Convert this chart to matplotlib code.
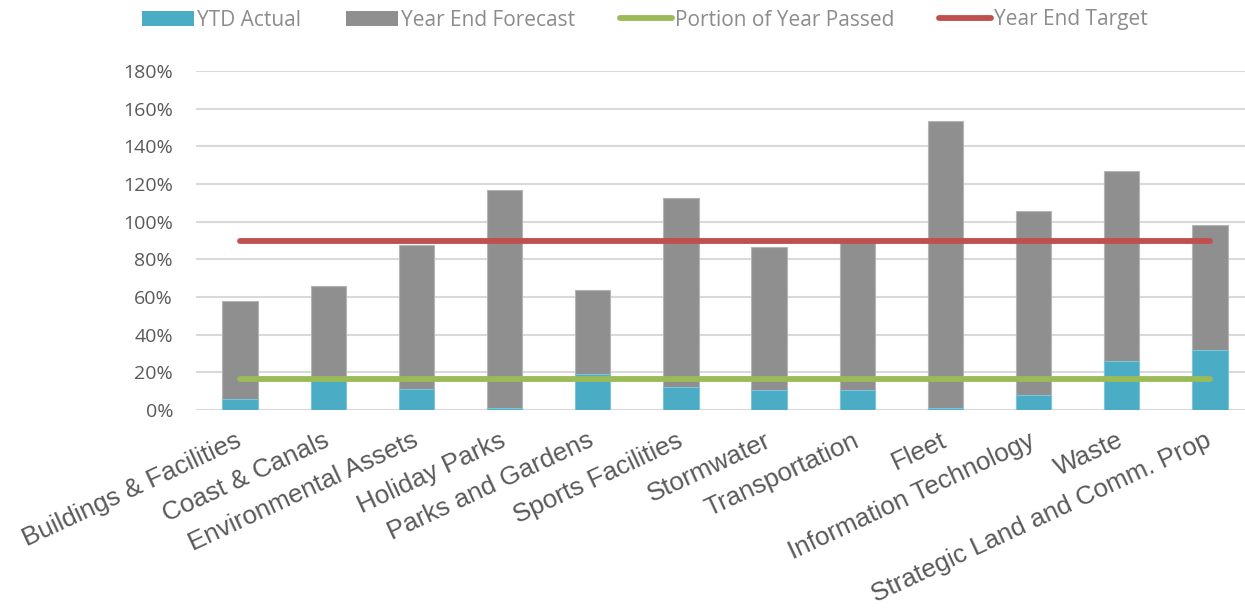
import matplotlib
matplotlib.use("Agg")
import matplotlib.pyplot as plt
from matplotlib.patches import Patch
from matplotlib.lines import Line2D
from matplotlib.ticker import FuncFormatter

categories = [
    "Buildings & Facilities", "Coast & Canals", "Environmental Assets",
    "Holiday Parks", "Parks and Gardens", "Sports Facilities", "Stormwater",
    "Transportation", "Fleet", "Information Technology", "Waste",
    "Strategic Land and Comm. Prop",
]
ytd_actual = [0.058, 0.16, 0.111, 0.009, 0.189, 0.12, 0.108, 0.104, 0.013, 0.078, 0.26, 0.317]
year_end_forecast = [0.579, 0.656, 0.874, 1.166, 0.635, 1.125, 0.863, 0.89, 1.537, 1.055, 1.267, 0.982]
portion_of_year = [0.165, 0.165, 0.165, 0.165, 0.165, 0.165, 0.165, 0.165, 0.165, 0.165, 0.165, 0.165]
year_end_target = [0.90, 0.90, 0.90, 0.90, 0.90, 0.90, 0.90, 0.90, 0.90, 0.90, 0.90, 0.90]
y_ticks = [0, 0.2, 0.4, 0.6, 0.8, 1.0, 1.2, 1.4, 1.6, 1.8]

BLUE = "#4BACC6"
GRAY = "#8F8F8F"
GREEN = "#9BBB59"
RED = "#C0504D"
TEXT = "#595959"
LEGEND_TEXT = "#8C8C8C"
GRID = "#D9D9D9"

W, H = 1245, 609
fig = plt.figure(figsize=(W / 100, H / 100), dpi=100)
ax = fig.add_axes([196 / W, (H - 410) / H, (1254 - 196) / W, (410 - 71) / H])

x = list(range(len(categories)))
ax.bar(x, year_end_forecast, width=0.4, color=GRAY, edgecolor="#B5B5B5",
       linewidth=0.8, zorder=2)
ax.bar(x, ytd_actual, width=0.4, color=BLUE, edgecolor="#7DC4D7",
       linewidth=0.8, zorder=3)
ax.plot(x, portion_of_year, color=GREEN, lw=4.2, solid_capstyle="round", zorder=4)
ax.plot(x, year_end_target, color=RED, lw=4.2, solid_capstyle="round", zorder=4)

ax.set_xlim(-0.5, len(categories) - 0.5)
ax.set_ylim(0, 1.8)
ax.set_yticks(y_ticks)
ax.yaxis.set_major_formatter(FuncFormatter(lambda v, p: f"{v * 100:.0f}%"))
ax.grid(axis="y", color=GRID, lw=1.5, zorder=0)
ax.set_axisbelow(True)
for s in ax.spines.values():
    s.set_visible(False)
ax.tick_params(axis="both", length=0)
ax.tick_params(axis="y", pad=16.5, labelsize=14, labelcolor=TEXT)
for lab in ax.get_yticklabels():
    lab.set_family("Open Sans")

ax.set_xticks(x)
ax.set_xticklabels(categories, rotation=25, ha="right", va="center",
                   rotation_mode="anchor", fontsize=18.7, color=TEXT,
                   family="Liberation Sans")
ax.tick_params(axis="x", pad=21)

handles = [
    Patch(facecolor=BLUE, label="YTD Actual"),
    Patch(facecolor=GRAY, label="Year End Forecast"),
    Line2D([0], [0], color=GREEN, lw=4.2, solid_capstyle="round", label="Portion of Year Passed"),
    Line2D([0], [0], color=RED, lw=4.2, solid_capstyle="round", label="Year End Target"),
]
leg = fig.legend(handles=handles, loc="center", bbox_to_anchor=(645 / W, 1 - 20 / H),
                 ncol=4, frameon=False, handlelength=2.5, handletextpad=0.15,
                 columnspacing=2.15, prop={"family": "Open Sans", "size": 15})
for t in leg.get_texts():
    t.set_color(LEGEND_TEXT)

fig.savefig("out.png", dpi=100)
